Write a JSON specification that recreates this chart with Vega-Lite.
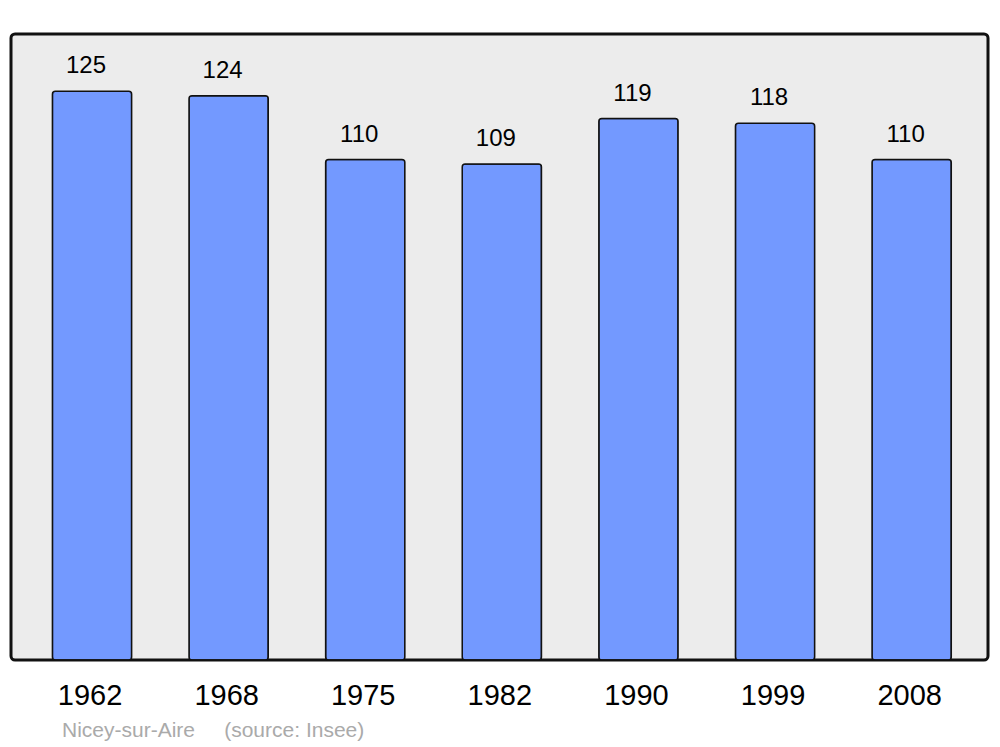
{
  "$schema": "https://vega.github.io/schema/vega-lite/v6.json",
  "autosize": "none",
  "width": 977,
  "height": 626,
  "padding": {"left": 11, "top": 34, "right": 12, "bottom": 87},
  "background": "#ffffff",
  "config": {
    "view": {"fill": "#ececec", "stroke": "#111111", "strokeWidth": 3, "cornerRadius": 4},
    "font": "Liberation Sans"
  },
  "title": {
    "text": "Nicey-sur-Aire\u00a0\u00a0\u00a0\u00a0\u00a0(source: Insee)",
    "orient": "bottom",
    "anchor": "start",
    "frame": "group",
    "dx": 51,
    "offset": 10,
    "fontSize": 21,
    "fontWeight": "normal",
    "color": "#aaaaaa",
    "font": "Liberation Sans"
  },
  "data": {
    "values": [
      {"year": "1962", "pop": 125},
      {"year": "1968", "pop": 124},
      {"year": "1975", "pop": 110},
      {"year": "1982", "pop": 109},
      {"year": "1990", "pop": 119},
      {"year": "1999", "pop": 118},
      {"year": "2008", "pop": 110}
    ]
  },
  "encoding": {
    "x": {
      "field": "year",
      "type": "nominal",
      "sort": null,
      "scale": {"paddingInner": 0.42, "paddingOuter": 0.286, "align": 0.53},
      "axis": {
        "title": null,
        "domain": false,
        "ticks": false,
        "tickSize": 0,
        "grid": false,
        "labelAngle": 0,
        "labelFontSize": 29,
        "labelColor": "#000000",
        "labelFont": "Liberation Sans",
        "labelPadding": 21,
        "labelOffset": -2
      }
    },
    "y": {
      "field": "pop",
      "type": "quantitative",
      "scale": {"domain": [0, 137.6], "nice": false, "zero": true},
      "axis": null
    }
  },
  "layer": [
    {
      "mark": {"type": "bar", "fill": "#7399ff", "stroke": "#111111", "strokeWidth": 1.5, "cornerRadius": 3}
    },
    {
      "mark": {"type": "text", "baseline": "alphabetic", "dy": -18, "dx": -6, "fontSize": 24, "color": "#000000", "font": "Liberation Sans"},
      "encoding": {"text": {"field": "pop", "type": "quantitative"}}
    }
  ]
}
